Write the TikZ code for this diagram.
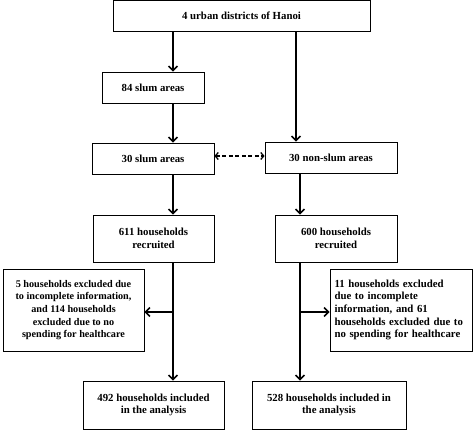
\documentclass[tikz,border=0pt]{standalone}
\usepackage{fontspec}
\setmainfont{Liberation Serif}
\usetikzlibrary{arrows.meta}
\begin{document}
\begin{tikzpicture}[x=1pt,y=-1pt,
  box/.style={draw,line width=0.8pt,inner sep=1pt,font=\bfseries\fontsize{10.8}{12.7}\selectfont,align=center},
  arr/.style={line width=1.6pt,-{Straight Barb[length=4.5pt,width=9pt,line width=1.5pt]}},
  darr/.style={line width=1.5pt,dash pattern=on 4pt off 2.5pt,{Straight Barb[length=3pt,width=7pt,line width=1.3pt]}-{Straight Barb[length=3pt,width=7pt,line width=1.3pt]}}]
\useasboundingbox (0,0) rectangle (473,430);
\node[box,minimum width=257pt,minimum height=31pt] (top) at (241.5,15.5) {4 urban districts of Hanoi};
\node[box,minimum width=102pt,minimum height=31pt] (s84) at (153,87.5) {84 slum areas};
\node[box,minimum width=122pt,minimum height=31pt] (s30) at (153,158.5) {30 slum areas};
\node[box,minimum width=132pt,minimum height=31pt] (ns30) at (331,157.5) {30 non-slum areas};
\node[box,minimum width=121pt,minimum height=47pt] (h611) at (153.5,238.5) {611 households\\recruited};
\node[box,minimum width=122pt,minimum height=47pt] (h600) at (336,238.5) {600 households\\recruited};
\node[box,minimum width=141pt,minimum height=82pt,font=\bfseries\fontsize{10.2}{12.7}\selectfont] (exL) at (73.5,310) {5 households excluded due\\to incomplete information,\\and 114 households\\excluded due to no\\spending for healthcare};
\node[box,minimum width=142pt,minimum height=82pt,align=left,text width=133pt] (exR) at (401,310) {11 households excluded\\due to incomplete\\information, and 61\\households excluded due to\\no spending for healthcare};
\node[box,minimum width=141pt,minimum height=48pt] (bL) at (153.5,405) {492 households included\\in the analysis};
\node[box,minimum width=154pt,minimum height=48pt] (bR) at (329,405) {528 households included in\\the analysis};
\coordinate (xl) at (173,0);
\coordinate (xr) at (296,0);
\coordinate (xr2) at (300,0);
\draw[arr] (top.south -| xl) -- (s84.north -| xl);
\draw[arr] (s84.south -| xl) -- (s30.north -| xl);
\draw[arr] (top.south -| xr) -- (ns30.north -| xr);
\draw[darr] (s30.east |- 0,156) -- (ns30.west |- 0,156);
\draw[arr] (s30.south -| xl) -- (h611.north -| xl);
\draw[arr] (ns30.south -| xr2) -- (h600.north -| xr2);
\draw[arr] (h611.south -| xl) -- (bL.north -| xl);
\draw[arr] (h600.south -| xr2) -- (bR.north -| xr2);
\coordinate (jl) at (173,312);
\coordinate (jr) at (300,312);
\draw[arr] (jl) -- (exL.east |- jl);
\draw[arr] (jr) -- (exR.west |- jr);
\end{tikzpicture}
\end{document}
